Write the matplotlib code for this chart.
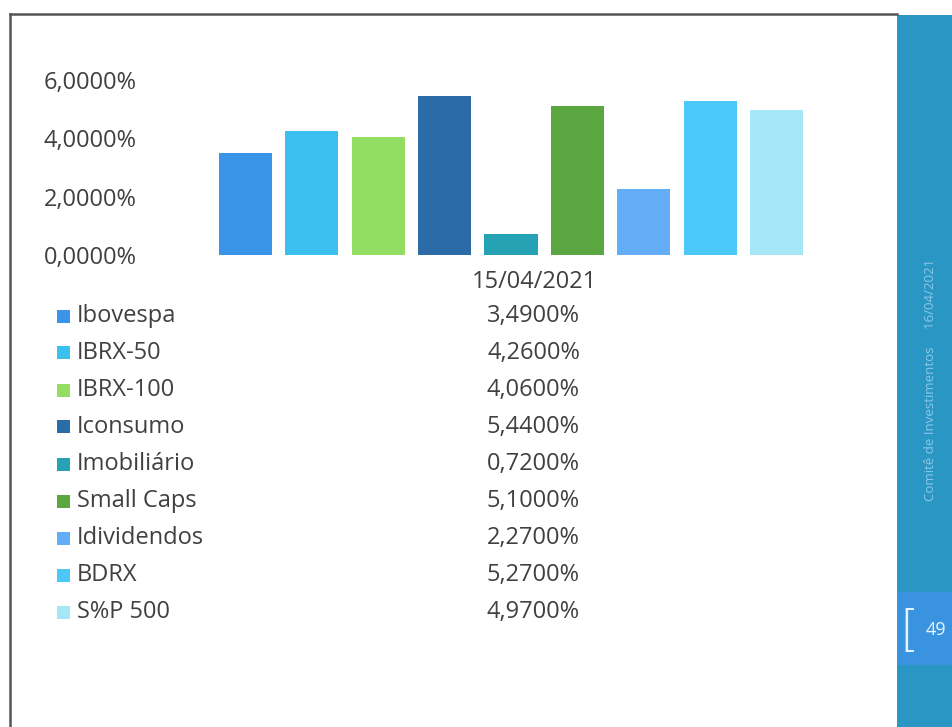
import matplotlib
matplotlib.use("Agg")
import matplotlib.pyplot as plt
from matplotlib.patches import Rectangle
from matplotlib.lines import Line2D
from matplotlib.ticker import FuncFormatter

categories = ["Ibovespa", "IBRX-50", "IBRX-100", "Iconsumo", "Imobiliário",
              "Small Caps", "Idividendos", "BDRX", "S%P 500"]
values = [3.49, 4.26, 4.06, 5.44, 0.72, 5.10, 2.27, 5.27, 4.97]
colors = ["#3A95E8", "#3BC0EF", "#92DD62", "#2B6CA8", "#25A3B5",
          "#5AA641", "#62ADF5", "#4BC8F7", "#A6E7F7"]
date_label = "15/04/2021"
yticks = [0, 2, 4, 6]

plt.rcParams['font.family'] = ['Open Sans', 'DejaVu Sans']
W, H = 953, 727
fig = plt.figure(figsize=(W / 100, H / 100), dpi=100)
fig.patch.set_facecolor("white")

def fx(x):
    return x / W

def fy(y):
    return 1 - y / H

txt = "#404040"
FS = 17

# slide border
fig.add_artist(Line2D([fx(10), fx(897)], [fy(14), fy(14)], color="#555555", lw=1.8))
fig.add_artist(Line2D([fx(10), fx(10)], [fy(14), fy(727)], color="#555555", lw=1.8))

# right sidebar
fig.add_artist(Rectangle((fx(897), 0), fx(953) - fx(897), fy(15), color="#2A96C4", lw=0))
fig.add_artist(Rectangle((fx(897), fy(665)), fx(953) - fx(897), (665 - 592) / H,
                         color="#3A93DF", lw=0))
fig.text(fx(909), fy(632), "[", color="#EAF4FC", fontsize=36, ha="center", va="center",
         family=["DejaVu Sans"], fontweight="light")
fig.text(fx(936), fy(630), "49", color="#EAF4FC", fontsize=13, ha="center", va="center")
fig.text(fx(931), fy(380), "Comitê de Investimentos     16/04/2021", color="#8CC8E6",
         fontsize=9.5, rotation=90, ha="center", va="center")

# bar chart
ax = fig.add_axes([fx(212), fy(255), (810 - 212) / W, (255 - 80) / H])
x = list(range(len(values)))
ax.bar(x, values, width=0.8, color=colors)
ax.set_xlim(-0.5, len(values) - 0.5)
ax.set_ylim(0, 6)
ax.set_yticks(yticks)
ax.yaxis.set_major_formatter(FuncFormatter(lambda v, p: f"{v:.4f}".replace(".", ",") + "%"))
ax.set_xticks([])
for s in ax.spines.values():
    s.set_visible(False)
ax.tick_params(axis="y", length=0, pad=54, labelsize=FS, labelcolor=txt)
ax.set_facecolor("none")

# data table
fig.text(fx(534), fy(282), date_label, fontsize=FS, color=txt, ha="center", va="center")
row0, dy = 316, 37
for i, (c, v, col) in enumerate(zip(categories, values, colors)):
    yc = row0 + i * dy
    fig.add_artist(Rectangle((fx(57), fy(yc + 6.5)), 13 / W, 13 / H, color=col, lw=0))
    fig.text(fx(77), fy(yc), c, fontsize=FS, color=txt, ha="left", va="center")
    fig.text(fx(580), fy(yc), f"{v:.4f}".replace(".", ",") + "%", fontsize=FS,
             color=txt, ha="right", va="center")

fig.savefig("out.png", dpi=100, facecolor="white")
